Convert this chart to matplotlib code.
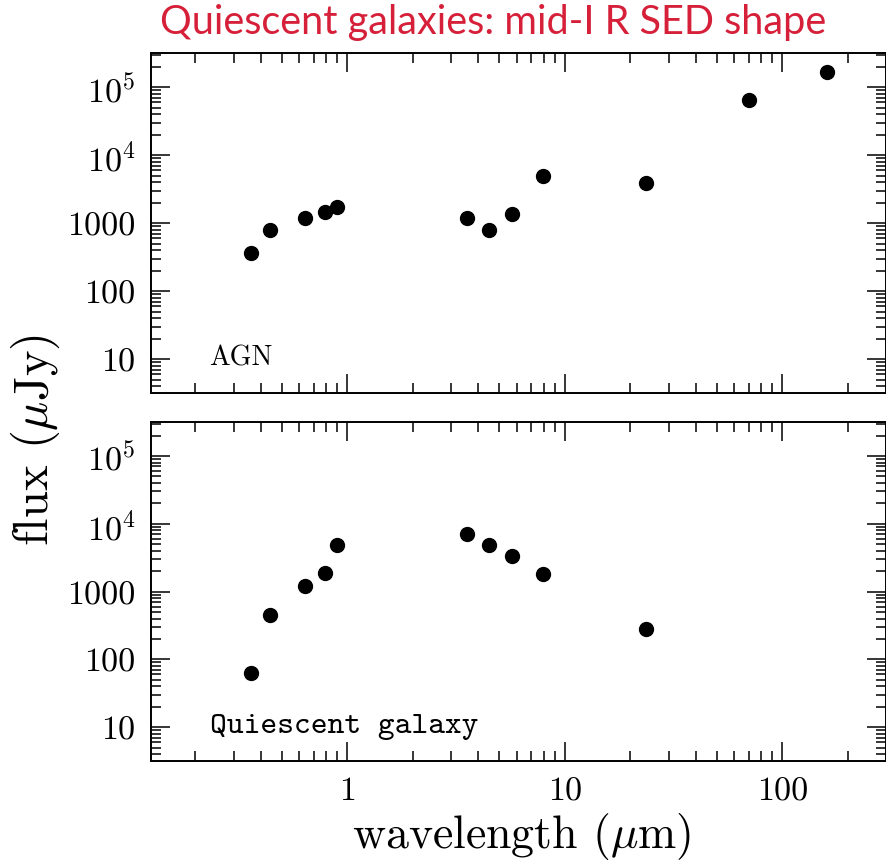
import matplotlib
matplotlib.use('Agg')
import matplotlib.pyplot as plt
from matplotlib.ticker import LogLocator, NullFormatter

plt.rcParams['font.family'] = 'cmr10'
plt.rcParams['mathtext.fontset'] = 'cm'
plt.rcParams['axes.formatter.use_mathtext'] = True

# wavelengths (micron) and fluxes (microJy)
wave_agn = [0.36, 0.44, 0.64, 0.79, 0.90, 3.55, 4.5, 5.73, 7.9, 23.7, 70, 160]
flux_agn = [365, 810, 1200, 1480, 1750, 1210, 810, 1350, 4950, 3980, 66000, 166000]

wave_qg = [0.36, 0.44, 0.64, 0.79, 0.90, 3.55, 4.5, 5.73, 7.9, 23.7]
flux_qg = [62, 450, 1220, 1900, 4800, 7000, 4800, 3300, 1820, 282]

ytick_vals = [10, 100, 1000, 1e4, 1e5]
ytick_labels = ['10', '100', '1000', r'$10^4$', r'$10^5$']
xtick_vals = [1, 10, 100]
xtick_labels = ['1', '10', '100']

fig = plt.figure(figsize=(8.87, 8.62), dpi=100)
ax1 = fig.add_axes([0.170, 0.5429, 0.829, 0.3945])
ax2 = fig.add_axes([0.170, 0.1163, 0.829, 0.3933])


def style(ax):
    ax.set_xscale('log')
    ax.set_yscale('log')
    ax.set_xlim(0.125, 300)
    ax.set_ylim(3.2, 3.2e5)
    ax.set_yticks(ytick_vals, labels=ytick_labels)
    ax.yaxis.set_minor_locator(LogLocator(base=10, subs=range(2, 10), numticks=20))
    ax.yaxis.set_minor_formatter(NullFormatter())
    ax.set_xticks(xtick_vals, labels=xtick_labels)
    ax.xaxis.set_minor_locator(LogLocator(base=10, subs=range(2, 10), numticks=20))
    ax.xaxis.set_minor_formatter(NullFormatter())
    ax.tick_params(which='both', direction='in', top=True, right=True, width=1.1)
    ax.tick_params(which='major', length=14, labelsize=24.5, pad=11)
    ax.tick_params(which='minor', length=7.5)
    for s in ax.spines.values():
        s.set_linewidth(1.4)


style(ax1)
style(ax2)
ax1.tick_params(axis='x', labelbottom=False)

ax1.plot(wave_agn, flux_agn, 'o', color='black', ms=10)
ax2.plot(wave_qg, flux_qg, 'o', color='black', ms=10)

ax1.text(0.079, 0.085, 'AGN', transform=ax1.transAxes, fontsize=20)
ax2.text(0.080, 0.084, 'Quiescent galaxy', transform=ax2.transAxes, fontsize=23,
         family='cmtt10')

fig.text(0.040, 0.49, r'flux ($\mu$Jy)', rotation=90, ha='center', va='center', fontsize=35)
fig.text(0.588, 0.016, r'wavelength ($\mu$m)', ha='center', va='baseline', fontsize=33)

fig.text(0.18, 0.974, 'Quiescent galaxies: mid-I R SED shape', family='Lato',
         color='#d6203a', fontsize=28.5, ha='left', va='center')

fig.savefig('out.png', dpi=100)
